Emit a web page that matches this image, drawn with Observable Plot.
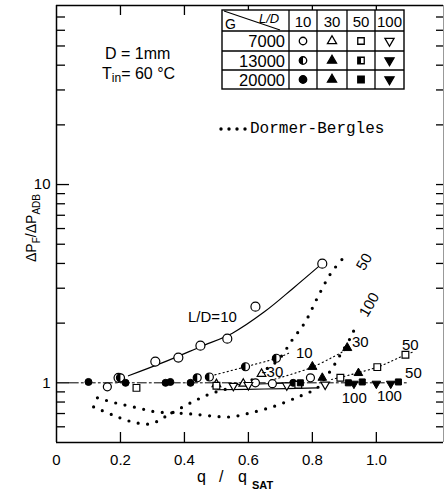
<!DOCTYPE html>
<html><head><meta charset="utf-8">
<script src="https://cdn.jsdelivr.net/npm/d3@7"></script>
<script src="https://cdn.jsdelivr.net/npm/@observablehq/plot@0.6"></script>
<style>body{margin:0;background:#fff}#chart{width:444px;height:492px}</style>
</head><body><div id="chart"></div>
<script>
// ---- axis ticks ----
const xTickValues = [0, 0.2, 0.4, 0.6, 0.8, 1.0];
const yLabelValues = [0.5, 1, 5, 10, 50];
const yMajorTicks = [1, 10];
const yMinorTicks = [0.6, 0.7, 0.8, 0.9, 2, 3, 4, 5, 6, 7, 8, 9, 20, 30, 40, 50, 60, 70];

// ---- L/D=10, G=7000 (open circles) and fitted curve ----
const ld10_g7000_q = [0.194, 0.309, 0.381, 0.45, 0.534, 0.622, 0.831];
const ld10_g7000_r = [1.06, 1.28, 1.34, 1.54, 1.67, 2.42, 3.99];
const ld10_fit_q = [0.225, 0.33, 0.45, 0.55, 0.65, 0.74, 0.83];
const ld10_fit_r = [1.085, 1.26, 1.52, 1.78, 2.28, 3.0, 3.99];

// ---- Dormer-Bergles predictions ----
const db50_q = [0.116, 0.175, 0.2375, 0.294, 0.35, 0.419, 0.481, 0.544, 0.606, 0.653, 0.694, 0.7375, 0.778, 0.816, 0.859, 0.906];
const db50_r = [0.756, 0.689, 0.635, 0.621, 0.689, 0.792, 0.88, 0.943, 1.024, 1.163, 1.307, 1.65, 2.03, 2.69, 3.59, 4.43];
const db100_q = [0.128, 0.184, 0.253, 0.309, 0.366, 0.419, 0.481, 0.544, 0.606, 0.675, 0.741, 0.778, 0.8125, 0.8375, 0.859, 0.8875, 0.919, 0.9375];
const db100_r = [0.84, 0.792, 0.748, 0.714, 0.705, 0.697, 0.681, 0.673, 0.705, 0.756, 0.83, 0.88, 0.933, 1.048, 1.163, 1.385, 1.688, 1.963];

// ---- data near unity ----
const ld10_g20000_q = [0.1, 0.216, 0.341, 0.356, 0.419, 0.74];
const ld10_g20000_r = [1.01, 1.0, 1.0, 1.01, 1.0, 1.0];
const ld10_g13000_q = [0.2, 0.44, 0.478, 0.591, 0.6875];
const ld10_g13000_r = [1.06, 1.06, 1.07, 1.205, 1.33];
const ld10_g13000_line_q = [0.47, 0.591, 0.6875, 0.73];
const ld10_g13000_line_r = [1.07, 1.205, 1.33, 1.42];
const ld10_low_q = [0.159, 0.622, 0.675, 0.794];
const ld10_low_r = [0.954, 1.0, 0.99, 1.06];

const ld30_g7000_q = [0.5, 0.584, 0.641];
const ld30_g7000_r = [0.985, 0.99, 1.11];
const ld30_g20000_q = [0.8, 0.909];
const ld30_g20000_r = [1.205, 1.5];
const ld30_g20000_line_q = [0.67, 0.8, 0.91];
const ld30_g20000_line_r = [1.03, 1.2, 1.48];
const ld30_g13000_q = [0.831, 0.944];
const ld30_g13000_r = [1.06, 1.12];

const ld50_g7000_q = [0.25, 0.5, 0.756, 0.8875, 1.003, 1.091];
const ld50_g7000_r = [0.943, 0.966, 0.977, 1.06, 1.2, 1.385];
const ld50_g7000_line_q = [0.86, 1.003, 1.091, 1.12];
const ld50_g7000_line_r = [1.04, 1.2, 1.385, 1.44];
const ld50_g20000_q = [0.7625, 0.9125, 0.956, 1.069];
const ld50_g20000_r = [1.0, 1.0, 1.01, 1.01];
const ld50_g20000_line_q = [0.04, 1.1];
const ld50_g20000_line_r = [1.0, 1.0];

const ld100_g7000_q = [0.553, 0.6, 0.72, 0.84];
const ld100_g7000_r = [0.965, 0.975, 0.97, 0.98];
const ld100_g20000_q = [0.93, 1.0, 1.045];
const ld100_g20000_r = [0.99, 0.99, 0.99];
const ld100_lineA_q = [0.503, 0.65, 0.816];
const ld100_lineA_r = [0.922, 0.93, 0.943];
const ld100_lineB_q = [0.553, 0.7625];
const ld100_lineB_r = [0.977, 1.0];

// ---- curve labels ----
const labelText = ["L/D=10", "50", "100", "10", "30", "-30", "50", "50", "100", "100"];
const labelQ = [0.4875, 0.9625, 0.978, 0.775, 0.95, 0.675, 1.106, 1.116, 0.931, 1.041];
const labelR = [2.154, 4.08, 2.477, 1.418, 1.611, 1.137, 1.556, 1.123, 0.84, 0.86];
const labelRot = [0, -60, -60, 0, 0, 0, 0, 0, 0, 0];

// ---- legend table ----
const legendG = ["7000", "13000", "20000"];
const legendLD = ["10", "30", "50", "100"];

const rows = (q, r) => q.map((d, i) => ({q: d, r: r[i]}));

// custom symbols
const triUp = {draw(ctx, size) { const s = Math.sqrt(size * 4 / Math.sqrt(3)), h = s * Math.sqrt(3) / 2;
  ctx.moveTo(0, -2 * h / 3); ctx.lineTo(s / 2, h / 3); ctx.lineTo(-s / 2, h / 3); ctx.closePath(); }};
const triDown = {draw(ctx, size) { const s = Math.sqrt(size * 4 / Math.sqrt(3)), h = s * Math.sqrt(3) / 2;
  ctx.moveTo(-s / 2, -h / 3); ctx.lineTo(s / 2, -h / 3); ctx.lineTo(0, 2 * h / 3); ctx.closePath(); }};
const halfCircle = {draw(ctx, size) { const r = Math.sqrt(size / Math.PI);
  ctx.moveTo(0, -r); ctx.arc(0, 0, r, -Math.PI / 2, Math.PI / 2, true); ctx.closePath(); }};
const halfSquare = {draw(ctx, size) { const w = Math.sqrt(size); ctx.rect(-w / 2, -w / 2, w / 2, w); }};

const innerW = 444 - 56 - 1, innerH = 492 - 5 - 50;
const dbStyle = {x: "q", y: "r", curve: "catmull-rom", stroke: "black", strokeWidth: 3.2, strokeLinecap: "round", strokeDasharray: "0 9.5"};
const smallDot = {x: "q", y: "r", curve: "catmull-rom", stroke: "black", strokeWidth: 1.1, strokeDasharray: "1.2 3"};
const openDot = (sym, r) => ({x: "q", y: "r", symbol: sym, r, fill: "white", stroke: "black", strokeWidth: 1.2});
const fullDot = (sym, r) => ({x: "q", y: "r", symbol: sym, r, fill: "black", stroke: "black", strokeWidth: 1});

const chart = Plot.plot({
  width: 444, height: 492,
  marginLeft: 56, marginRight: 1, marginTop: 5, marginBottom: 50,
  style: {fontFamily: "'Liberation Sans', Arial, sans-serif", fontSize: "15px", background: "white", color: "black"},
  x: {domain: [0, 1.21]},
  y: {type: "log", domain: [0.5, 80]},
  marks: [
    // frame
    Plot.ruleX([0], {stroke: "black", strokeWidth: 1.5}),
    Plot.ruleX([1.21], {stroke: "#999", strokeWidth: 1}),
    Plot.ruleY([0.5], {stroke: "black", strokeWidth: 1.5}),
    Plot.ruleY([80], {stroke: "black", strokeWidth: 1.5}),
    // inward ticks
    Plot.tickY(yMinorTicks, {y: d => d, insetRight: innerW - 9, stroke: "black", strokeWidth: 1.3}),
    Plot.tickY(yMajorTicks, {y: d => d, insetRight: innerW - 13, stroke: "black", strokeWidth: 1.3}),
    Plot.tickY(yMinorTicks.concat(yMajorTicks), {y: d => d, insetLeft: innerW - 7, stroke: "black", strokeWidth: 1.3}),
    Plot.tickX(xTickValues.slice(1), {x: d => d, insetTop: innerH - 10, stroke: "black", strokeWidth: 1.3}),
    Plot.tickX(xTickValues.slice(1), {x: d => d, insetBottom: innerH - 10, stroke: "black", strokeWidth: 1.3}),
    Plot.axisY({ticks: yLabelValues, tickFormat: d => String(d), tickSize: 0, tickPadding: 6, label: null, fontSize: 15}),
    Plot.axisX({ticks: xTickValues, tickFormat: d => d === 0 ? "0" : d.toFixed(1), tickSize: 0, tickPadding: 12, label: null, fontSize: 15}),
    // Dormer-Bergles
    Plot.line(rows(db50_q, db50_r), dbStyle),
    Plot.line(rows(db100_q, db100_r), dbStyle),
    // lines
    Plot.line(rows(ld10_fit_q, ld10_fit_r), {x: "q", y: "r", curve: "catmull-rom", stroke: "black", strokeWidth: 1.2}),
    Plot.line(rows(ld50_g20000_line_q, ld50_g20000_line_r), {x: "q", y: "r", stroke: "black", strokeWidth: 1, strokeDasharray: "9 3 2 3"}),
    Plot.line(rows(ld100_lineA_q, ld100_lineA_r), {x: "q", y: "r", curve: "catmull-rom", stroke: "black", strokeWidth: 1.1}),
    Plot.line(rows(ld100_lineB_q, ld100_lineB_r), {x: "q", y: "r", stroke: "black", strokeWidth: 1.1}),
    Plot.line(rows(ld10_g13000_line_q, ld10_g13000_line_r), smallDot),
    Plot.line(rows(ld30_g20000_line_q, ld30_g20000_line_r), smallDot),
    Plot.line(rows(ld50_g7000_line_q, ld50_g7000_line_r), smallDot),
    // markers
    Plot.dot(rows(ld10_g7000_q, ld10_g7000_r), openDot("circle", 4.5)),
    Plot.dot(rows(ld10_low_q, ld10_low_r), openDot("circle", 4)),
    Plot.dot(rows(ld10_g13000_q, ld10_g13000_r), openDot("circle", 4)),
    Plot.dot(rows(ld10_g13000_q, ld10_g13000_r), {x: "q", y: "r", symbol: halfCircle, r: 4, fill: "black"}),
    Plot.dot(rows(ld10_g20000_q, ld10_g20000_r), fullDot("circle", 3.5)),
    Plot.dot(rows(ld30_g7000_q, ld30_g7000_r), openDot(triUp, 3.2)),
    Plot.dot(rows(ld30_g13000_q, ld30_g13000_r), fullDot(triUp, 3.2)),
    Plot.dot(rows(ld30_g20000_q, ld30_g20000_r), fullDot(triUp, 3.4)),
    Plot.dot(rows(ld50_g7000_q, ld50_g7000_r), openDot("square", 3.8)),
    Plot.dot(rows(ld50_g20000_q, ld50_g20000_r), fullDot("square", 3.4)),
    Plot.dot(rows(ld100_g7000_q, ld100_g7000_r), openDot(triDown, 3.2)),
    Plot.dot(rows(ld100_g20000_q, ld100_g20000_r), fullDot(triDown, 3.2)),
    // curve labels
    Plot.text(labelText.map((t, i) => ({t, q: labelQ[i], r: labelR[i], a: labelRot[i]})),
      {x: "q", y: "r", text: "t", rotate: "a", fontSize: 15, fill: "black"})
  ]
});
document.getElementById("chart").appendChild(chart);

// ---- annotations drawn into the same svg ----
const svg = d3.select(chart);
const sans = "'Liberation Sans', Arial, sans-serif";
const ann = svg.append("g").attr("text-anchor", "start").attr("font-family", sans).attr("fill", "black");

// legend table
const colX = [222, 289, 317, 347, 375, 404];
const rowY = [10, 31, 51, 70, 89];
const tg = ann.append("g");
tg.append("rect").attr("x", colX[0]).attr("y", rowY[0]).attr("width", colX[5] - colX[0]).attr("height", rowY[4] - rowY[0])
  .attr("fill", "white").attr("stroke", "black").attr("stroke-width", 1.4);
colX.slice(1, 5).forEach(x => tg.append("line").attr("x1", x).attr("x2", x).attr("y1", rowY[0]).attr("y2", rowY[4]).attr("stroke", "black").attr("stroke-width", 1.3));
rowY.slice(1, 4).forEach(y => tg.append("line").attr("x1", colX[0]).attr("x2", colX[5]).attr("y1", y).attr("y2", y).attr("stroke", "black").attr("stroke-width", 1.3));
tg.append("line").attr("x1", 224).attr("y1", 11).attr("x2", 280).attr("y2", 30).attr("stroke", "black").attr("stroke-width", 1.1);
tg.append("text").attr("x", 225).attr("y", 29).attr("font-size", 14).text("G");
tg.append("text").attr("x", 259).attr("y", 23).attr("font-size", 13).attr("font-style", "italic").text("L/D");
legendLD.forEach((t, i) => tg.append("text").attr("x", (colX[i + 1] + colX[i + 2]) / 2).attr("y", 27)
  .attr("text-anchor", "middle").attr("font-size", 15).text(t));
legendG.forEach((t, i) => tg.append("text").attr("x", 285).attr("y", rowY[i + 1] + 16)
  .attr("text-anchor", "end").attr("font-size", 16.5).text(t));
const legendSyms = [
  [["circle", "open"], ["circle", "half"], ["circle", "full"]],
  [[triUp, "open"], [triUp, "full"], [triUp, "full"]],
  [["square", "open"], ["square", "half"], ["square", "full"]],
  [[triDown, "open"], [triDown, "full"], [triDown, "full"]]
];
const symType = s => s === "circle" ? d3.symbolCircle : s === "square" ? d3.symbolSquare : s;
legendSyms.forEach((col, ci) => col.forEach(([s, kind], ri) => {
  const cx = (colX[ci + 1] + colX[ci + 2]) / 2, cy = (rowY[ri + 1] + rowY[ri + 2]) / 2;
  const size = s === "circle" ? 44 : s === "square" ? 42 : 36;
  tg.append("path").attr("transform", `translate(${cx},${cy})`).attr("d", d3.symbol(symType(s), size)())
    .attr("fill", kind === "full" ? "black" : "white").attr("stroke", "black").attr("stroke-width", 1.3);
  if (kind === "half") {
    const ht = s === "circle" ? halfCircle : halfSquare;
    tg.append("path").attr("transform", `translate(${cx},${cy})`).attr("d", d3.symbol(ht, size)()).attr("fill", "black");
  }
}));

// conditions
ann.append("text").attr("x", 105).attr("y", 59).attr("font-size", 16).text("D = 1mm");
const tin = ann.append("text").attr("x", 102).attr("y", 79).attr("font-size", 16);
tin.append("tspan").text("T");
tin.append("tspan").attr("font-size", 12).attr("dy", 3).text("in");
tin.append("tspan").attr("dy", -3).text("= 60 °C");

// Dormer-Bergles legend
[221, 229, 237, 245].forEach(x => ann.append("circle").attr("cx", x).attr("cy", 129).attr("r", 1.7).attr("fill", "black"));
ann.append("text").attr("x", 250).attr("y", 133).attr("font-family", "'Liberation Mono', 'DejaVu Sans Mono', monospace")
  .attr("font-size", 16).text("Dormer-Bergles");

// x axis title
const xt = ann.append("text").attr("font-size", 16).attr("y", 482);
xt.append("tspan").attr("x", 197).text("q");
xt.append("tspan").attr("x", 219).text("/");
xt.append("tspan").attr("x", 238).text("q");
xt.append("tspan").attr("x", 252).attr("dy", 7).attr("font-size", 11).attr("font-weight", "bold").text("SAT");

// y axis title
const yt = ann.append("text").attr("font-size", 14).attr("transform", "translate(36,262) rotate(-90)");
yt.append("tspan").text("ΔP");
yt.append("tspan").attr("font-size", 10).attr("dy", 4).text("F");
yt.append("tspan").attr("dy", -4).text("/ΔP");
yt.append("tspan").attr("font-size", 10).attr("dy", 4).text("ADB");
</script></body></html>
